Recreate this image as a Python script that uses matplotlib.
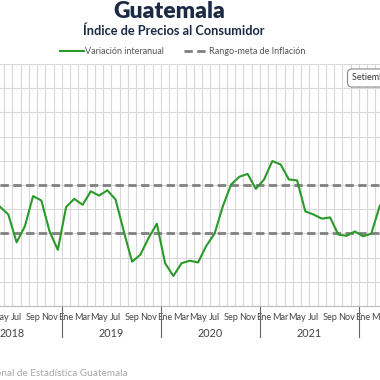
import numpy as np
import pandas as pd
import matplotlib
matplotlib.use('Agg')
import matplotlib.pyplot as plt
from matplotlib.lines import Line2D
import matplotlib.transforms as mtransforms

# Variacion interanual del IPC (%), mayo 2018 - abril 2022
inicio = '2018-05'
fin = '2022-04'
variacion = [4.10, 3.78, 2.63, 3.29, 4.54, 4.36, 3.08, 2.32,
             4.09, 4.43, 4.18, 4.74, 4.56, 4.78, 4.40, 3.08, 1.83, 2.12, 2.81, 3.40,
             1.77, 1.24, 1.77, 1.87, 1.80, 2.49, 2.99, 4.12, 5.02, 5.34, 5.46, 4.84,
             5.23, 5.99, 5.85, 5.23, 5.19, 3.91, 3.78, 3.61, 3.66, 2.95, 2.90, 3.08,
             2.88, 2.99, 4.12, 4.62]
meta_min = 3
meta_max = 5
meses = ['Ene', 'Feb', 'Mar', 'Abr', 'May', 'Jun', 'Jul', 'Ago', 'Sep', 'Oct', 'Nov', 'Dic']
anios = [2018, 2019, 2020, 2021, 2022]

fechas = pd.period_range(inicio, fin, freq='M')
x = [(f.year - anios[0]) * 12 + f.month - 1 for f in fechas]

plt.rcParams['font.family'] = ['Lato', 'DejaVu Sans']

fig = plt.figure(figsize=(3.8, 3.8), dpi=100)
# axis area is wider than the picture: the chart is cropped on both sides
ax = fig.add_axes([0, 74 / 380, 1, 242 / 380])

n_meses = len(anios) * 12
ax.set_xticks(np.arange(0, n_meses, 2))
ax.set_xticklabels([meses[i % 12] for i in range(0, n_meses, 2)], fontsize=6.6, color='#444444')
ax.set_xticks(np.arange(-0.5, n_meses, 1), minor=True)
ax.set_yticks(np.arange(0, 11, 1))
ax.set_yticklabels([])
ax.set_xlim(3.99, 3.99 + 380 / 8.25)
ax.set_ylim(0, 10)
ax.tick_params(axis='both', which='both', length=0, pad=5)
ax.grid(True, which='minor', axis='x', color='#d8d8d8', linewidth=0.8)
ax.grid(True, which='major', axis='y', color='#d8d8d8', linewidth=0.8)
for s in ['left', 'right', 'top']:
    ax.spines[s].set_visible(False)
ax.spines['bottom'].set_color('#bbbbbb')
ax.set_axisbelow(True)

ax.axhline(meta_min, color='#808080', linewidth=2, linestyle=(0, (3, 1.6)))
ax.axhline(meta_max, color='#808080', linewidth=2, linestyle=(0, (3, 1.6)))
ax.plot(x, variacion, color='#2a9a2a', linewidth=1.5)

# year labels and dividers below the axis
trans = mtransforms.blended_transform_factory(ax.transData, ax.transAxes)
for i, a in enumerate(anios):
    ax.text(i * 12 + 5.5, -0.112, str(a), transform=trans, ha='center', va='center',
            fontsize=7.8, color='#444444')
    if i > 0:
        ax.plot([i * 12 - 0.5, i * 12 - 0.5], [0, -0.128], transform=trans,
                color='#666666', linewidth=0.8, clip_on=False)

fig.text(169 / 380, 1 - 12 / 380, 'Guatemala', ha='center', va='center',
         fontsize=16.5, fontweight='heavy', color='#1b2a45')
fig.text(174 / 380, 1 - 31 / 380, 'Índice de Precios al Consumidor', ha='center', va='center',
         fontsize=9.2, fontweight='bold', color='#1b2a45')

handles = [Line2D([], [], color='#2a9a2a', linewidth=1.5),
           Line2D([], [], color='#808080', linewidth=2, linestyle=(0, (3, 1.6)))]
fig.legend(handles, ['Variación interanual', 'Rango-meta de Inflación'], loc='center',
           bbox_to_anchor=(183 / 380, 1 - 52 / 380), ncol=2, frameon=False,
           fontsize=6.5, handlelength=2.6, handletextpad=0.2, columnspacing=2.2,
           labelcolor='#555555')

fig.text(352 / 380, 1 - 78 / 380, 'Setiembre 2022', ha='left', va='center', fontsize=6.5,
         color='#333333',
         bbox=dict(boxstyle='round,pad=0.5', facecolor='white', edgecolor='#888888', linewidth=0.8))

fig.text(128 / 380, 1 - 373 / 380, 'Fuente: Instituto Nacional de Estadística Guatemala',
         ha='right', va='center', fontsize=7.2, color='#a8a8a8')

fig.savefig('out.png', dpi=100)
